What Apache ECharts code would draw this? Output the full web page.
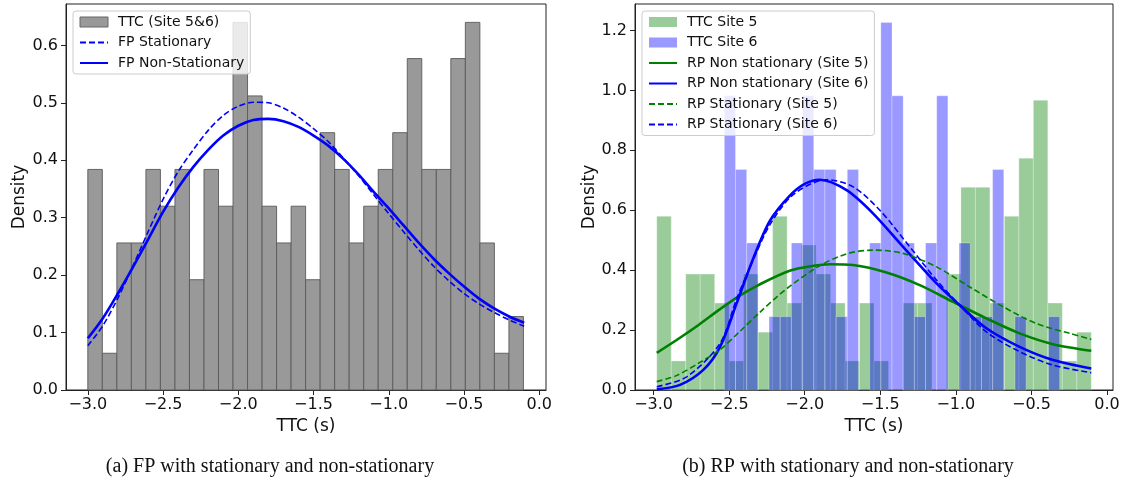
<!DOCTYPE html>
<html><head><meta charset="utf-8">
<script src="https://cdn.jsdelivr.net/npm/echarts@6/dist/echarts.min.js"></script>
<style>html,body{margin:0;padding:0;background:#fff}#c{width:1131px;height:490px}</style>
</head><body><div id="c"></div><script>
// ---------- DATA ----------
const xTicks = [-3.0, -2.5, -2.0, -1.5, -1.0, -0.5, 0.0];
const yTicksLeft = [0, 0.1, 0.2, 0.3, 0.4, 0.5, 0.6];
const yTicksRight = [0, 0.2, 0.4, 0.6, 0.8, 1.0, 1.2];

// (a) histogram of TTC, sites 5&6 (30 bins)
const fpBinRange = [-3.0, -0.105];
const fpHistDensity = [0.384,0.064,0.256,0.256,0.384,0.320,0.384,0.192,0.384,0.320,
                       0.640,0.512,0.320,0.256,0.320,0.192,0.448,0.384,0.256,0.320,
                       0.384,0.448,0.577,0.384,0.384,0.577,0.640,0.256,0.064,0.128];
// (a) fitted curves
const fpCurveX = [-3.0,-2.9,-2.8,-2.7,-2.6,-2.5,-2.4,-2.3,-2.2,-2.1,-2.0,-1.9,-1.8,-1.7,-1.6,
                  -1.5,-1.4,-1.3,-1.2,-1.1,-1.0,-0.9,-0.8,-0.7,-0.6,-0.5,-0.4,-0.3,-0.2,-0.1];
const fpStatY = [0.077,0.112,0.160,0.216,0.275,0.332,0.380,0.418,0.452,0.478,0.494,0.501,0.500,0.491,0.475,
                 0.455,0.432,0.403,0.373,0.340,0.307,0.275,0.244,0.215,0.190,0.168,0.150,0.135,0.122,0.111];
const fpNonStatY = [0.090,0.125,0.168,0.214,0.262,0.310,0.352,0.388,0.418,0.443,0.460,0.470,0.472,0.468,0.458,
                    0.443,0.425,0.402,0.375,0.345,0.316,0.286,0.256,0.228,0.203,0.180,0.159,0.142,0.128,0.117];

// (b) histograms (30 bins each)
const site5BinRange = [-2.979, -0.104];
const site5Density = [0.580,0.097,0.387,0.387,0.290,0.097,0.387,0.193,0.580,0.290,
                      0.484,0.387,0.290,0.097,0.290,0.097,0.000,0.290,0.290,0.000,
                      0.387,0.677,0.677,0.290,0.580,0.774,0.967,0.290,0.097,0.193];
const site6BinRange = [-2.532, -0.313];
const site6Density = [0.982,0.736,0.491,0.000,0.245,0.245,0.491,0.982,0.736,0.736,
                      0.245,0.736,0.000,0.491,1.227,0.982,0.491,0.245,0.491,0.982,
                      0.000,0.491,0.245,0.245,0.736,0.000,0.245,0.000,0.000,0.245];
// (b) fitted curves
const rpNon5X = [-2.979,-2.85,-2.70,-2.56,-2.43,-2.30,-2.10,-1.95,-1.833,-1.679,-1.459,-1.239,-1.018,-0.798,-0.578,-0.357,-0.104];
const rpNon5Y = [0.124,0.166,0.218,0.270,0.315,0.352,0.398,0.414,0.420,0.417,0.392,0.350,0.294,0.239,0.189,0.153,0.131];
const rpStat5X = [-2.979,-2.85,-2.70,-2.56,-2.43,-2.30,-2.12,-1.90,-1.72,-1.547,-1.349,-1.128,-0.908,-0.688,-0.468,-0.247,-0.104];
const rpStat5Y = [0.028,0.048,0.090,0.135,0.195,0.258,0.338,0.415,0.455,0.467,0.456,0.411,0.344,0.278,0.222,0.189,0.169];
const rpNon6X = [-2.979,-2.825,-2.671,-2.56,-2.45,-2.34,-2.23,-2.10,-2.00,-1.90,-1.723,-1.547,-1.349,-1.128,-0.974,-0.798,-0.578,-0.357,-0.104];
const rpNon6Y = [0.002,0.017,0.067,0.144,0.290,0.440,0.565,0.648,0.688,0.702,0.667,0.589,0.478,0.356,0.283,0.206,0.144,0.100,0.072];
const rpStat6X = [-2.979,-2.781,-2.56,-2.45,-2.34,-2.23,-2.076,-1.856,-1.679,-1.503,-1.305,-1.128,-0.974,-0.798,-0.578,-0.357,-0.104];
const rpStat6Y = [0.011,0.044,0.156,0.305,0.435,0.552,0.652,0.702,0.678,0.600,0.478,0.367,0.283,0.194,0.128,0.083,0.058];

// ---------- BUILD ----------
function bins(range, dens){
  const n = dens.length, w = (range[1]-range[0])/n;
  return dens.map((d,i)=>[range[0]+i*w, range[0]+(i+1)*w, d]);
}
function pairs(xs, ys){ return xs.map((x,i)=>[x, ys[i]]); }
function histRender(fill, stroke, lw){
  return function(params, api){
    const x0 = api.value(0), x1 = api.value(1), h = api.value(2);
    if (!(h > 0)) return null;
    const p0 = api.coord([x0, h]), p1 = api.coord([x1, 0]);
    return {type:'rect', shape:{x:p0[0], y:p0[1], width:p1[0]-p0[0], height:p1[1]-p0[1]},
            style:{fill:fill, stroke:stroke, lineWidth:lw}};
  };
}
const fmt = v => (v < 0 ? '\u2212' : '') + Math.abs(v).toFixed(1);
const tickFont = {fontFamily:'DejaVu Sans', fontSize:16, color:'#111'};
function xAx(idx, min, max){
  return {type:'value', gridIndex:idx, min:min, max:max,
    name:'TTC (s)', nameLocation:'middle', nameGap:26,
    nameTextStyle:{fontFamily:'DejaVu Sans', fontSize:17, color:'#111'},
    axisLine:{show:true, onZero:false, lineStyle:{color:'#222', width:1}},
    axisTick:{show:true, length:5, lineStyle:{color:'#222'}, customValues:xTicks},
    axisLabel:Object.assign({margin:7, formatter:fmt, customValues:xTicks}, tickFont),
    splitLine:{show:false}};
}
function yAx(idx, max, ticks, gap){
  return {type:'value', gridIndex:idx, min:0, max:max,
    name:'Density', nameLocation:'middle', nameGap:gap,
    nameTextStyle:{fontFamily:'DejaVu Sans', fontSize:17, color:'#111'},
    axisLine:{show:true, onZero:false, lineStyle:{color:'#222', width:1}},
    axisTick:{show:true, length:5, lineStyle:{color:'#222'}, customValues:ticks},
    axisLabel:Object.assign({margin:8, formatter:v=>v.toFixed(1), customValues:ticks}, tickFont),
    splitLine:{show:false}};
}
const blue = '#0000ff', green = '#008000';
function line(name, xi, data, color, dashed){
  return {type:'line', name:name, xAxisIndex:xi, yAxisIndex:xi, data:data, smooth:0.3,
    symbol:'none', showSymbol:false, z:5,
    lineStyle:{color:color, width:dashed?1.6:2.6, type:dashed?[6,3]:'solid'},
    itemStyle:{color:color}};
}
const noSym = n => ({name:n, itemStyle:{opacity:0}});
const legendBase = {orient:'vertical', itemWidth:28, itemHeight:10, itemGap:6.5,
  backgroundColor:'rgba(255,255,255,0.8)', borderColor:'#cccccc', borderWidth:1, borderRadius:3,
  textStyle:{fontFamily:'DejaVu Sans', fontSize:14, lineHeight:14, color:'#111', padding:[0,0,0,5]},
  inactiveColor:'#ccc', selectedMode:false};

const option = {
  animation:false,
  grid:[
    {left:66, top:4, width:480, height:386, show:true, borderColor:'#222', borderWidth:1},
    {left:635, top:4, width:478, height:386, show:true, borderColor:'#222', borderWidth:1}
  ],
  xAxis:[xAx(0, -3.145, 0.045), xAx(1, -3.123, 0.0397)],
  yAxis:[yAx(0, 0.672, yTicksLeft, 38), yAx(1, 1.2885, yTicksRight, 33)],
  legend:[
    Object.assign({}, legendBase, {left:73, top:11, padding:[4,6,4,6],
      data:[{name:'TTC (Site 5&6)', icon:'rect', itemStyle:{color:'#999999', borderColor:'#666', borderWidth:1}},
            noSym('FP Stationary'), noSym('FP Non-Stationary')]}),
    Object.assign({}, legendBase, {left:642, top:11, padding:[4,6,4,6],
      data:[{name:'TTC Site 5', icon:'rect'},{name:'TTC Site 6', icon:'rect'},
            noSym('RP Non stationary (Site 5)'), noSym('RP Non stationary (Site 6)'),
            noSym('RP Stationary (Site 5)'), noSym('RP Stationary (Site 6)')]})
  ],
  series:[
    {type:'custom', name:'TTC (Site 5&6)', xAxisIndex:0, yAxisIndex:0, encode:{x:[0,1], y:2},
     itemStyle:{color:'#999999'}, renderItem:histRender('#999999','#5a5a5a',0.9), data:bins(fpBinRange, fpHistDensity)},
    line('FP Stationary', 0, pairs(fpCurveX, fpStatY), blue, true),
    line('FP Non-Stationary', 0, pairs(fpCurveX, fpNonStatY), blue, false),
    {type:'custom', name:'TTC Site 5', xAxisIndex:1, yAxisIndex:1, encode:{x:[0,1], y:2},
     itemStyle:{color:'rgba(0,128,0,0.4)'}, renderItem:histRender('rgba(0,128,0,0.4)','rgba(255,255,255,0.35)',0.8),
     data:bins(site5BinRange, site5Density)},
    {type:'custom', name:'TTC Site 6', xAxisIndex:1, yAxisIndex:1, encode:{x:[0,1], y:2},
     itemStyle:{color:'rgba(0,0,255,0.4)'}, renderItem:histRender('rgba(0,0,255,0.4)','rgba(255,255,255,0.35)',0.8),
     data:bins(site6BinRange, site6Density)},
    line('RP Non stationary (Site 5)', 1, pairs(rpNon5X, rpNon5Y), green, false),
    line('RP Non stationary (Site 6)', 1, pairs(rpNon6X, rpNon6Y), blue, false),
    line('RP Stationary (Site 5)', 1, pairs(rpStat5X, rpStat5Y), green, true),
    line('RP Stationary (Site 6)', 1, pairs(rpStat6X, rpStat6Y), blue, true)
  ],
  graphic:[
    {type:'text', style:{text:'(a) FP with stationary and non-stationary', x:270, y:467,
      font:'20px "Liberation Serif"', fill:'#111', align:'center', verticalAlign:'middle'}},
    {type:'text', style:{text:'(b) RP with stationary and non-stationary', x:848, y:467,
      font:'20px "Liberation Serif"', fill:'#111', align:'center', verticalAlign:'middle'}}
  ]
};
const chart = echarts.init(document.getElementById('c'), null, {renderer:'canvas'});
chart.setOption(option);
</script></body></html>
